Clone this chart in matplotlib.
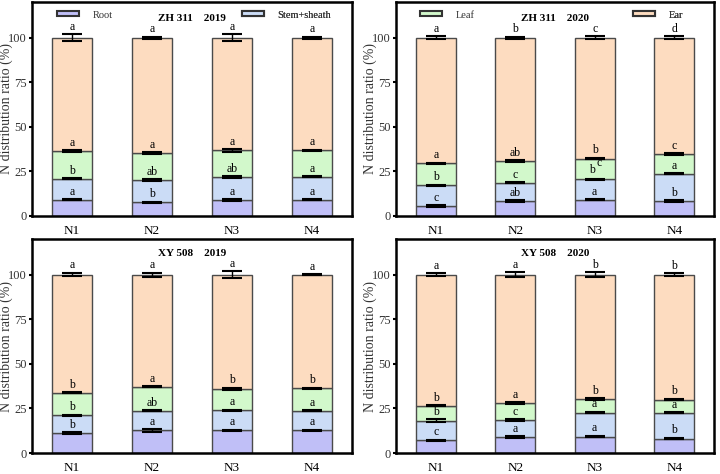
import matplotlib
matplotlib.use("Agg")
import matplotlib.pyplot as plt
import numpy as np

plt.rcParams['font.family'] = ['Liberation Serif', 'DejaVu Serif']

categories = ["N1", "N2", "N3", "N4"]
organs = ["Root", "Stem+sheath", "Leaf", "Ear"]
colors = ["#c0bff7", "#cbdcf6", "#d2f8cb", "#fddcc0"]

titles = ["ZH 311    2019", "ZH 311    2020", "XY 508    2019", "XY 508    2020"]

# segment values (%) per panel: root, stem+sheath, leaf, ear
zh2019_root = [9.0, 7.7, 9.0, 9.0]
zh2019_stem = [11.8, 12.3, 12.7, 12.9]
zh2019_leaf = [15.7, 15.4, 15.2, 15.0]
zh2019_ear = [63.5, 64.6, 63.1, 63.1]

zh2020_root = [5.6, 8.4, 9.0, 8.4]
zh2020_stem = [11.6, 10.3, 11.6, 15.2]
zh2020_leaf = [12.4, 12.0, 11.6, 11.0]
zh2020_ear = [70.4, 69.3, 67.8, 65.4]

xy2019_root = [11.2, 12.7, 12.7, 12.7]
xy2019_stem = [9.9, 10.9, 11.2, 11.0]
xy2019_leaf = [12.7, 13.6, 12.2, 12.7]
xy2019_ear = [66.2, 62.8, 63.9, 63.6]

xy2020_root = [7.1, 9.0, 9.2, 8.1]
xy2020_stem = [11.1, 9.6, 13.5, 14.4]
xy2020_leaf = [8.3, 9.4, 7.7, 7.5]
xy2020_ear = [73.5, 72.0, 69.6, 70.0]

# error (SD) at top of each cumulative segment
zh2019_err = [[0.3, 0.3, 0.8, 0.3], [0.3, 0.6, 0.5, 0.3], [0.4, 0.4, 0.8, 0.3], [1.8, 0.6, 2.0, 0.5]]
zh2020_err = [[0.3, 0.4, 0.3, 0.4], [0.3, 0.3, 0.3, 0.3], [0.4, 0.6, 0.4, 0.5], [0.8, 0.6, 0.8, 0.8]]
xy2019_err = [[0.5, 0.7, 0.3, 0.3], [0.3, 0.3, 0.4, 0.3], [0.3, 0.3, 0.6, 0.3], [1.0, 1.2, 2.0, 0.3]]
xy2020_err = [[0.3, 0.8, 0.3, 0.3], [0.6, 0.6, 0.4, 0.3], [0.4, 0.5, 0.5, 0.3], [0.8, 1.4, 1.5, 0.9]]

# significance letters
zh2019_letters = [["a", "b", "a", "a"], ["b", "ab", "ab", "a"], ["a", "a", "a", "a"], ["a", "a", "a", "a"]]
zh2020_letters = [["c", "ab", "a", "b"], ["b", "c", "b\u2009c", "a"], ["a", "ab", "b", "c"], ["a", "b", "c", "d"]]
xy2019_letters = [["b", "a", "a", "a"], ["b", "ab", "a", "a"], ["b", "a", "b", "b"], ["a", "a", "a", "a"]]
xy2020_letters = [["c", "a", "a", "b"], ["b", "c", "a", "a"], ["b", "a", "b", "b"], ["a", "a", "b", "b"]]

panels = [
    ([zh2019_root, zh2019_stem, zh2019_leaf, zh2019_ear], zh2019_err, zh2019_letters),
    ([zh2020_root, zh2020_stem, zh2020_leaf, zh2020_ear], zh2020_err, zh2020_letters),
    ([xy2019_root, xy2019_stem, xy2019_leaf, xy2019_ear], xy2019_err, xy2019_letters),
    ([xy2020_root, xy2020_stem, xy2020_leaf, xy2020_ear], xy2020_err, xy2020_letters),
]

fig = plt.figure(figsize=(7.2, 4.74), dpi=100)
W, H = 720.0, 474.0
rects = [
    (32 / W, 1 - 216 / H, 320 / W, 214 / H),
    (396 / W, 1 - 216 / H, 318 / W, 214 / H),
    (32 / W, 1 - 453 / H, 320 / W, 214 / H),
    (396 / W, 1 - 453 / H, 318 / W, 214 / H),
]

x = np.arange(len(categories))
fs_let = 8.5

for i, ((segs, errs, letters), rect) in enumerate(zip(panels, rects)):
    ax = fig.add_axes(rect)
    bottom = np.zeros(len(categories))
    bars = []
    for k, seg in enumerate(segs):
        seg = np.array(seg)
        b = ax.bar(x, seg, width=0.5, bottom=bottom, color=colors[k],
                   edgecolor="#4a4a4a", linewidth=1.0, label=organs[k], zorder=2)
        bars.append(b)
        top = bottom + seg
        ax.errorbar(x, top, yerr=errs[k], fmt="none", ecolor="black",
                    elinewidth=1.0, capsize=7, capthick=1.5, zorder=3)
        for j in range(len(categories)):
            lab = letters[k][j]
            if "\u2009" in lab:
                a, c = lab.split("\u2009")
                ax.text(x[j] - 0.04, top[j] + 2.0, a, ha="center", va="bottom", fontsize=fs_let, zorder=4)
                ax.text(x[j] + 0.05, top[j] + 6.0, c, ha="center", va="bottom", fontsize=fs_let, zorder=4)
            else:
                off = errs[k][j] + 0.8 if k == 3 else 1.2
                ax.text(x[j], top[j] + off, lab, ha="center", va="bottom", fontsize=fs_let, zorder=4)
        bottom = top

    ax.set_xlim(-0.5, 3.5)
    ax.set_ylim(0, 120)
    ax.set_yticks([0, 25, 50, 75, 100])
    ax.set_xticks(x)
    ax.set_xticklabels(categories, fontsize=9.5)
    ax.tick_params(axis="x", length=0, pad=6.5)
    ax.tick_params(axis="y", direction="out", length=2.5, width=1.5, labelsize=9,
                   labelcolor="#333333", pad=1)
    for sp in ax.spines.values():
        sp.set_linewidth(1.8)
        sp.set_color("black")
    ax.set_ylabel("N distribution ratio (%)", fontsize=10, color="#333333")
    ax.yaxis.set_label_coords(-0.06, 0.5)
    ax.text(0.5, 0.925 if i < 2 else 0.931, titles[i], transform=ax.transAxes,
            ha="center", va="center", fontsize=8, fontweight="bold")

    if i == 0:
        pairs = [(bars[0], organs[0], 0.078), (bars[1], organs[1], 0.656)]
    elif i == 1:
        pairs = [(bars[2], organs[2], 0.075), (bars[3], organs[3], 0.745)]
    else:
        pairs = []
    for h, lab, xa in pairs:
        lg = ax.legend([h], [lab], loc="center left", bbox_to_anchor=(xa, 0.939),
                       frameon=False, fontsize=7.5, handlelength=2.1, handleheight=0.4,
                       handletextpad=1.3, borderpad=0, borderaxespad=0)
        for t in lg.get_texts():
            t.set_color("#333333")
        for p in lg.get_patches():
            p.set_edgecolor("#333333")
            p.set_linewidth(1.5)
        ax.add_artist(lg)

fig.savefig("out.png", dpi=100)
